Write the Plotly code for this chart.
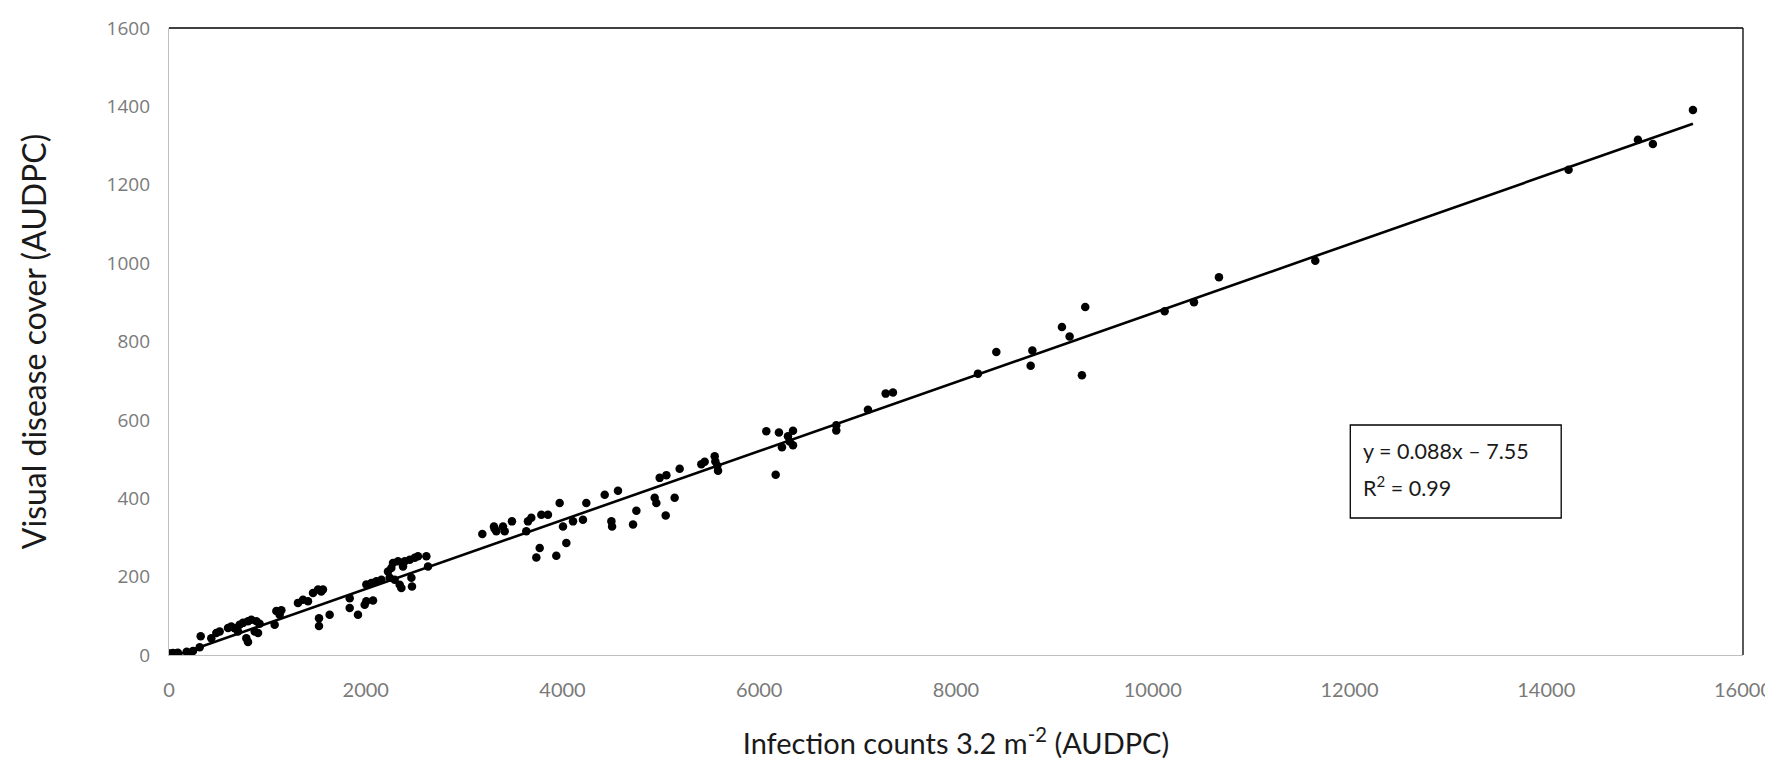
import plotly.graph_objects as go

# Data (AUDPC values)
infection_counts = [10, 40, 70, 90, 180, 210, 244, 312, 322, 430, 481, 515, 600, 633, 667, 701, 718, 752,
                    786, 803, 803, 837, 871, 888, 905, 921, 1074, 1091, 1125, 1142, 1311, 1362, 1413, 1464,
                    1515, 1548, 1565, 1525, 1525, 1633, 1837, 1837, 1921, 1989, 2006, 2074, 2006, 2057,
                    2108, 2159, 2226, 2243, 2260, 2277, 2294, 2328, 2345, 2362, 2379, 2396, 2447, 2464,
                    2470, 2498, 2531, 2616, 2633, 3185, 3303, 3310, 3327, 3395, 3412, 3486, 3632, 3649,
                    3683, 3785, 3852, 3971, 4005, 4107, 4208, 4242, 3768, 3734, 3937, 4039, 4429, 4564,
                    4497, 4504, 4717, 4751, 4937, 4954, 4988, 5056, 5049, 5140, 5191, 5411, 5445, 5547,
                    5554, 5574, 5581, 6072, 6167, 6200, 6292, 6343, 6231, 6343, 6309, 6783, 6783, 7105,
                    7285, 7359, 8223, 8410, 8776, 8759, 9077, 9155, 9314, 9280, 10121, 10419, 10673,
                    11652, 14227, 14932, 15084, 15491]
visual_cover = [4, 5, 4, 6, 8, 5, 10, 20, 48, 43, 56, 60, 69, 73, 68, 60, 77, 82,
                43, 33, 86, 90, 60, 86, 56, 80, 77, 112, 103, 114, 133, 141, 137, 158,
                167, 162, 167, 94, 74, 103, 145, 120, 103, 128, 137, 139, 180, 184,
                188, 192, 213, 197, 222, 235, 192, 239, 179, 171, 226, 239, 243, 197,
                175, 248, 252, 252, 226, 309, 328, 322, 316, 328, 316, 341, 316, 341,
                350, 358, 358, 388, 328, 341, 345, 388, 273, 249, 253, 286, 409, 419,
                341, 328, 333, 368, 401, 388, 452, 459, 356, 401, 475, 487, 493, 507,
                494, 483, 470, 571, 460, 568, 558, 572, 530, 535, 545, 586, 573, 626,
                667, 670, 718, 773, 777, 738, 837, 813, 888, 714, 877, 900, 964,
                1006, 1238, 1315, 1304, 1391]

slope = 0.088
intercept = -7.55
r_squared = 0.99

x_ticks = [0, 2000, 4000, 6000, 8000, 10000, 12000, 14000, 16000]
y_ticks = [0, 200, 400, 600, 800, 1000, 1200, 1400, 1600]

fit_x = [min(infection_counts), max(infection_counts)]
fit_y = [slope * v + intercept for v in fit_x]

fig = go.Figure()
fig.add_trace(go.Scatter(x=infection_counts, y=visual_cover, mode="markers",
                         marker=dict(color="black", size=8.5), showlegend=False, cliponaxis=True))
fig.add_trace(go.Scatter(x=fit_x, y=fit_y, mode="lines",
                         line=dict(color="black", width=2.6), showlegend=False))

fig.update_layout(
    width=1773, height=773,
    margin=dict(l=161, r=38, t=20, b=126, autoexpand=False),
    paper_bgcolor="white", plot_bgcolor="white",
    xaxis=dict(range=[0, 16000], tickvals=x_ticks, ticktext=[str(v) for v in x_ticks],
               showgrid=False, zeroline=False, showline=True, linecolor="#bfbfbf", linewidth=1.3,
               ticks="outside", ticklen=17, tickcolor="rgba(0,0,0,0)",
               tickfont=dict(family="Lato", size=20, color="#7a7a7a"),
               title=dict(text="Infection counts 3.2 m<sup>-2</sup> (AUDPC)",
                          font=dict(family="Lato", size=29, color="#1a1a1a"), standoff=33)),
    yaxis=dict(range=[0, 1600], tickvals=y_ticks, ticktext=[str(v) for v in y_ticks],
               showgrid=False, zeroline=False, showline=True, linecolor="#bfbfbf", linewidth=1.3,
               ticks="outside", ticklen=14, tickcolor="rgba(0,0,0,0)",
               tickfont=dict(family="Open Sans", size=19, color="#7a7a7a"),
               title=dict(text="Visual disease cover (AUDPC)",
                          font=dict(family="Lato", size=32, color="#1a1a1a"), standoff=50)),
    shapes=[
        dict(type="line", xref="x domain", yref="y domain", x0=0, x1=1, y0=1, y1=1,
             line=dict(color="black", width=1.3)),
        dict(type="line", xref="x domain", yref="y domain", x0=1, x1=1, y0=0, y1=1,
             line=dict(color="black", width=1.3)),
        dict(type="rect", xref="x domain", yref="y domain", x0=0.7505, x1=0.8845, y0=0.2185, y1=0.3668,
             line=dict(color="black", width=1.3), fillcolor="white", layer="above"),
    ],
    annotations=[
        dict(xref="x domain", yref="y domain", x=0.7575, y=0.3254, xanchor="left", yanchor="middle",
             text=f"y = {slope}x \u2013 {abs(intercept)}", showarrow=False,
             font=dict(family="Lato", size=21.5, color="#1a1a1a")),
        dict(xref="x domain", yref="y domain", x=0.7575, y=0.2695, xanchor="left", yanchor="middle",
             text=f"R<sup>2</sup> = {r_squared}", showarrow=False,
             font=dict(family="Lato", size=21.5, color="#1a1a1a")),
    ],
)

fig.write_html("out.html")
